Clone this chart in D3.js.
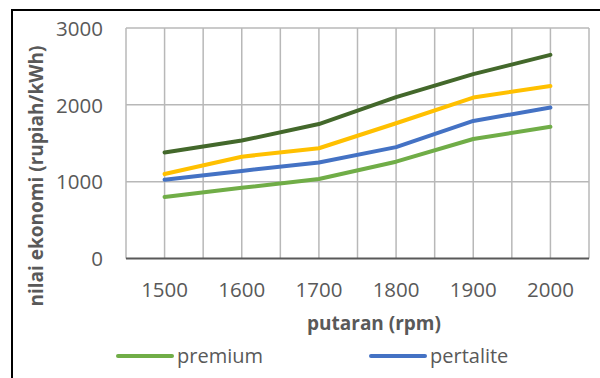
<!DOCTYPE html>
<html><head><meta charset="utf-8">
<script src="https://cdn.jsdelivr.net/npm/d3@7"></script>
<style>
html,body{margin:0;padding:0;background:#fff;overflow:hidden}
text{font-family:"Open Sans",sans-serif;fill:#595959}
</style></head>
<body><svg id="c" width="600" height="378"></svg>
<script>
const categories = [1500, 1600, 1700, 1800, 1900, 2000];
const premium   = [800, 920, 1035, 1260, 1555, 1715];
const pertalite = [1025, 1140, 1250, 1450, 1790, 1965];
const seriesC   = [1100, 1325, 1435, 1760, 2095, 2245];
const seriesD   = [1380, 1535, 1750, 2100, 2400, 2650];
const yTicks = [0, 1000, 2000, 3000];
const seriesNames = ["premium", "pertalite", "seri 3", "seri 4"];
const seriesColors = ["#70AD47", "#4472C4", "#FFC000", "#43682B"];
const xTitle = "putaran (rpm)";
const yTitle = "nilai ekonomi (rupiah/kWh)";

const svg = d3.select("#c");
svg.append("rect").attr("x",12).attr("y",10).attr("width",620).attr("height",400)
  .attr("fill","none").attr("stroke","#000").attr("stroke-width",2);

const L=126, R=589, T=28, B=258.5;
const x = d3.scaleBand().domain(categories).range([L,R]).padding(0);
const y = d3.scaleLinear().domain([0,3000]).range([B,T]);
const cx = d => x(d) + x.bandwidth()/2;

const g = svg.append("g");
const vLines = [];
categories.forEach(c => { vLines.push(x(c)); vLines.push(cx(c)); });
vLines.push(R);
g.selectAll("line.v").data(vLines).join("line")
  .attr("x1",d=>d).attr("x2",d=>d).attr("y1",T).attr("y2",B)
  .attr("stroke","#b8b8b8").attr("stroke-width",1.5);
g.selectAll("line.h").data(yTicks).join("line")
  .attr("x1",L).attr("x2",R).attr("y1",d=>y(d)).attr("y2",d=>y(d))
  .attr("stroke", d => d===0 ? "#595959" : "#b8b8b8")
  .attr("stroke-width", d => d===0 ? 2 : 1.5);

const yAxis = d3.axisLeft(y).tickValues(yTicks).tickFormat(d3.format("d")).tickSize(0).tickPadding(0);
const ya = svg.append("g").attr("transform",`translate(103,0)`).call(yAxis);
ya.select(".domain").remove();
ya.selectAll("text").style("font-size","20.5px").attr("fill","#595959").attr("dy","0.35em");

const xAxis = d3.axisBottom(x).tickFormat(d3.format("d")).tickSize(0).tickPadding(0);
const xa = svg.append("g").attr("transform",`translate(0,${B+31})`).call(xAxis);
xa.select(".domain").remove();
xa.selectAll("text").style("font-size","20.5px").attr("fill","#595959").attr("dy","0.35em");

const allSeries = [premium, pertalite, seriesC, seriesD];
const line = d3.line().x((d,i)=>cx(categories[i])).y(d=>y(d));
[3,2,1,0].forEach(k => {
  svg.append("path").datum(allSeries[k]).attr("d",line)
    .attr("fill","none").attr("stroke",seriesColors[k]).attr("stroke-width",4)
    .attr("stroke-linejoin","round").attr("stroke-linecap","round");
});

svg.append("text").attr("x",374).attr("y",323).attr("text-anchor","middle")
  .attr("dy","0.35em").style("font-size","19px").style("font-weight","bold").text(xTitle);
svg.append("text").attr("transform","translate(36,176) rotate(-90)").attr("text-anchor","middle")
  .attr("dy","0.35em").style("font-size","19px").style("font-weight","bold").text(yTitle);

const legX = [118, 371];
[0,1].forEach(k => {
  const lg = svg.append("g").attr("transform",`translate(${legX[k]},356)`);
  lg.append("line").attr("x1",0).attr("x2",54).attr("y1",0).attr("y2",0)
    .attr("stroke",seriesColors[k]).attr("stroke-width",4).attr("stroke-linecap","round");
  lg.append("text").attr("x",59).attr("y",0).attr("dy","0.35em").style("font-size","20px").text(seriesNames[k]);
});
</script></body></html>
